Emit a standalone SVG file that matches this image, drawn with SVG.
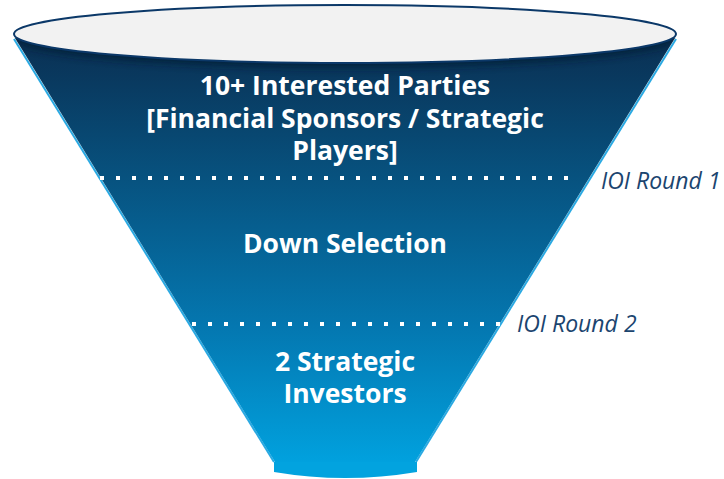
<svg xmlns="http://www.w3.org/2000/svg" width="724" height="479" viewBox="0 0 724 479">
  <defs>
    <linearGradient id="bodyFill" gradientUnits="userSpaceOnUse" x1="0" y1="38" x2="0" y2="462">
      <stop offset="0" stop-color="#0a2f52"/>
      <stop offset="0.33" stop-color="#07527f"/>
      <stop offset="0.68" stop-color="#0477b0"/>
      <stop offset="1" stop-color="#01a1de"/>
    </linearGradient>
    <filter id="soft" x="-10%" y="-50%" width="120%" height="200%">
      <feGaussianBlur stdDeviation="4"/>
    </filter>
    <clipPath id="bodyClip">
      <path d="M15,38 L675,38 L415,462 L275,462 Z"/>
    </clipPath>
  </defs>
  <style>
    .label { font-family: "Open Sans", "Liberation Sans", sans-serif; font-weight: 700; font-size: 26.5px; fill: #ffffff; text-anchor: middle; }
    .round { font-family: "Open Sans", "Liberation Sans", sans-serif; font-style: italic; font-size: 23px; fill: #1b456f; }
    .edge { stroke: #2aa9e2; stroke-width: 2; fill: none; }
    .dots { stroke: #ffffff; stroke-width: 4; stroke-dasharray: 4 12; fill: none; }
  </style>

  <!-- funnel body -->
  <g id="funnel">
    <line class="edge" x1="14" y1="39" x2="274" y2="462"/>
    <line class="edge" x1="676" y1="39" x2="416" y2="462"/>
    <path d="M15,38 L675,38 L415,462 L275,462 Z" fill="url(#bodyFill)"/>
    <!-- shadow cast by the rim -->
    <g clip-path="url(#bodyClip)">
      <ellipse cx="345" cy="38" rx="330" ry="29" fill="#041d33" opacity="0.8" filter="url(#soft)"/>
    </g>
    <!-- spout -->
    <path d="M274,462 L417,462 L417,472 Q345,484 274,472 Z" fill="#02a3df"/>
    <!-- rim -->
    <ellipse cx="345" cy="34" rx="331" ry="29" fill="#f2f2f2" stroke="#0b3868" stroke-width="2"/>
  </g>

  <!-- stage separators -->
  <g id="connectors">
    <line class="dots" x1="100" y1="178" x2="570" y2="178"/>
    <line class="dots" x1="192" y1="324" x2="500" y2="324"/>
  </g>

  <g id="stage-parties">
    <text class="label" x="345" y="95">10+ Interested Parties</text>
    <text class="label" x="345" y="127.5">[Financial Sponsors / Strategic</text>
    <text class="label" x="345" y="159.5">Players]</text>
  </g>
  <g id="stage-down-selection">
    <text class="label" x="345" y="253">Down Selection</text>
  </g>
  <g id="stage-investors">
    <text class="label" x="345" y="371">2 Strategic</text>
    <text class="label" x="345" y="403">Investors</text>
  </g>
  <g id="round-1">
    <text class="round" x="601" y="189">IOI Round 1</text>
  </g>
  <g id="round-2">
    <text class="round" x="517" y="332">IOI Round 2</text>
  </g>
</svg>
